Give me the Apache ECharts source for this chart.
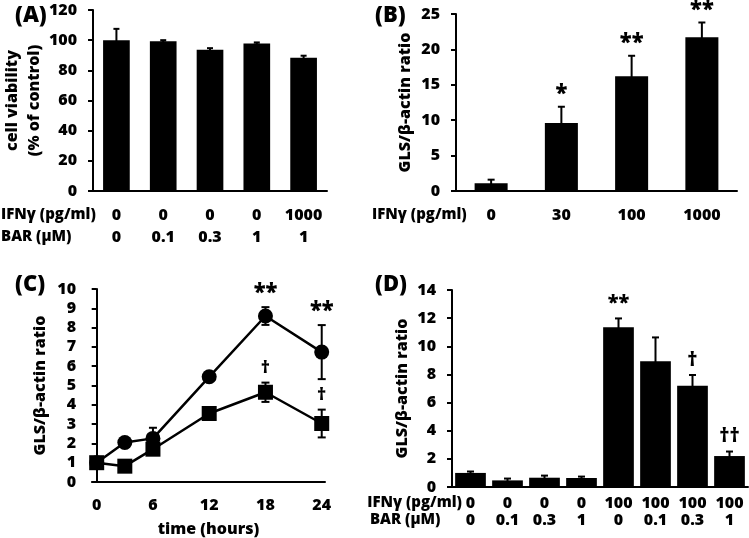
<!DOCTYPE html>
<html>
<head>
<meta charset="utf-8">
<script src="https://cdn.jsdelivr.net/npm/echarts@6/dist/echarts.min.js"></script>
<style>
  html, body { margin: 0; padding: 0; background: #fff; }
  #main { width: 749px; height: 538px; }
</style>
</head>
<body>
<div id="main"></div>
<script>
// (A) cell viability
var ifnA = ['0', '0', '0', '0', '1000'];
var barA = ['0', '0.1', '0.3', '1', '1'];
var viabA = [100, 99.2, 93.7, 97.8, 88.4];
var viabErrA = [7.5, 0.8, 1.0, 0.7, 1.3];

// (B) GLS vs IFNγ dose
var ifnB = ['0', '30', '100', '1000'];
var glsB = [1.1, 9.6, 16.2, 21.7];
var errB = [0.5, 2.3, 2.9, 2.1];
var marksB = ['', '*', '**', '**'];

// (C) time course
var timeC = [0, 3, 6, 12, 18, 24];
var circC = [1.0, 2.05, 2.26, 5.45, 8.6, 6.73];
var circErrC = [0.1, 0.1, 0.55, 0.1, 0.46, 1.4];
var sqC = [1.0, 0.82, 1.7, 3.55, 4.65, 3.03];
var sqErrC = [0.1, 0.1, 0.15, 0.15, 0.5, 0.72];
var circMarksC = ['', '', '', '', '**', '**'];
var sqMarksC = ['', '', '', '', '\u2020', '\u2020'];
var timeTicksC = [0, 6, 12, 18, 24];

// (D) IFNγ + BAR
var ifnD = ['0', '0', '0', '0', '100', '100', '100', '100'];
var barD = ['0', '0.1', '0.3', '1', '0', '0.1', '0.3', '1'];
var glsD = [1.0, 0.47, 0.66, 0.64, 11.35, 8.93, 7.2, 2.2];
var errD = [0.1, 0.13, 0.15, 0.1, 0.63, 1.7, 0.76, 0.32];
var marksD = ['', '', '', '', '**', '', '\u2020', '\u2020\u2020'];

var FONT = '"Open Sans", "Liberation Sans", sans-serif';
var FS = 16;
var FW = 800;

function errData(xs, vals, errs) {
  return vals.map(function (v, i) { return [xs ? xs[i] : i, v - errs[i], v + errs[i]]; });
}
function topData(xs, vals, errs) {
  return vals.map(function (v, i) { return [xs ? xs[i] : i, v + errs[i]]; });
}

// 误差线：竖线 + 上下横帽
function errItem(capW) {
  return function (params, api) {
    var x = api.value(0);
    var lo = api.coord([x, api.value(1)]);
    var hi = api.coord([x, api.value(2)]);
    var st = { stroke: '#000', lineWidth: 2 };
    return {
      type: 'group',
      children: [
        { type: 'line', shape: { x1: lo[0], y1: lo[1], x2: hi[0], y2: hi[1] }, style: st },
        { type: 'line', shape: { x1: hi[0] - capW / 2, y1: hi[1], x2: hi[0] + capW / 2, y2: hi[1] }, style: st },
        { type: 'line', shape: { x1: lo[0] - capW / 2, y1: lo[1], x2: lo[0] + capW / 2, y2: lo[1] }, style: st }
      ]
    };
  };
}

// 显著性标记 (* / †)
function markItem(marks, gap, size) {
  return function (params, api) {
    var t = marks[params.dataIndex];
    if (!t) return;
    var p = api.coord([api.value(0), api.value(1)]);
    return {
      type: 'text',
      style: {
        text: t, x: p[0], y: p[1] - gap, align: 'center', verticalAlign: 'middle',
        font: FW + ' ' + size + 'px ' + FONT, fill: '#000'
      }
    };
  };
}

var labelStyle = { color: '#000', fontSize: FS, fontWeight: FW, fontFamily: FONT };

function yAxis(grid, max, interval, name, gap) {
  return {
    type: 'value', gridIndex: grid, min: 0, max: max, interval: interval,
    name: name, nameLocation: 'middle', nameGap: gap,
    nameTextStyle: { color: '#000', fontSize: FS, fontWeight: FW, fontFamily: FONT, lineHeight: 22 },
    axisLine: { show: true, lineStyle: { color: '#000', width: 2 } },
    axisTick: { show: true, length: 5, lineStyle: { color: '#000', width: 2 } },
    axisLabel: Object.assign({ margin: 16 }, labelStyle),
    splitLine: { show: false }
  };
}

function baseX(grid, n) {
  var d = [];
  for (var i = 0; i < n; i++) d.push(i);
  return {
    type: 'category', gridIndex: grid, data: d,
    axisLine: { show: true, lineStyle: { color: '#000', width: 2 } },
    axisTick: { show: false }, axisLabel: { show: false }
  };
}

function rowX(grid, labels, offset, name, nameGap) {
  return {
    type: 'category', gridIndex: grid, data: labels, position: 'bottom', offset: offset,
    name: name, nameLocation: 'start', nameGap: nameGap,
    nameTextStyle: { color: '#000', fontSize: 15, fontWeight: FW, fontFamily: FONT, align: 'left', verticalAlign: 'middle' },
    axisLine: { show: false }, axisTick: { show: false },
    axisLabel: Object.assign({ margin: 0, verticalAlign: 'middle', interval: 0 }, labelStyle)
  };
}

var titleStyle = { fontSize: 22, fontWeight: FW, fontFamily: FONT, color: '#000' };

var myChart = echarts.init(document.getElementById('main'));
var option = {
  backgroundColor: '#fff',
  animation: false,
  title: [
    { text: '(A)', left: 10, top: 0, textStyle: titleStyle },
    { text: '(B)', left: 370, top: 0, textStyle: titleStyle },
    { text: '(C)', left: 10, top: 269, textStyle: titleStyle },
    { text: '(D)', left: 370, top: 269, textStyle: titleStyle }
  ],
  grid: [
    { left: 92, top: 10, width: 235, height: 181 },
    { left: 456, top: 14, width: 281, height: 177 },
    { left: 92, top: 289, width: 233, height: 196 },
    { left: 452, top: 290, width: 296, height: 197 }
  ],
  xAxis: [
    baseX(0, 5),
    rowX(0, ifnA, 24, 'IFN\u03b3 (pg/ml)', 92),
    rowX(0, barA, 46, 'BAR (\u03bcM)', 92),
    baseX(1, 4),
    rowX(1, ifnB, 24, 'IFN\u03b3 (pg/ml)', 84),
    {
      type: 'value', gridIndex: 2, min: -0.5, max: 24.35,
      name: 'time (hours)', nameLocation: 'middle', nameGap: 39,
      nameTextStyle: { color: '#000', fontSize: FS, fontWeight: FW, fontFamily: FONT },
      axisLine: { show: true, lineStyle: { color: '#000', width: 2 } },
      axisTick: { show: false },
      axisLabel: Object.assign({ margin: 15, customValues: timeTicksC }, labelStyle),
      splitLine: { show: false }
    },
    baseX(3, 8),
    rowX(3, ifnD, 16, 'IFN\u03b3 (pg/ml)', 82),
    rowX(3, barD, 33, 'BAR (\u03bcM)', 82)
  ],
  yAxis: [
    yAxis(0, 120, 20, 'cell viability\n(% of control)', 33),
    yAxis(1, 25, 5, 'GLS/\u03b2-actin ratio', 40),
    yAxis(2, 10, 1, 'GLS/\u03b2-actin ratio', 41),
    yAxis(3, 14, 2, 'GLS/\u03b2-actin ratio', 27)
  ],
  series: [
    // A
    { type: 'bar', xAxisIndex: 0, yAxisIndex: 0, data: viabA, barCategoryGap: '43%', itemStyle: { color: '#000' } },
    { type: 'custom', xAxisIndex: 0, yAxisIndex: 0, data: errData(null, viabA, viabErrA), renderItem: errItem(6), encode: { x: 0, y: [1, 2] }, z: 3 },
    // B
    { type: 'bar', xAxisIndex: 3, yAxisIndex: 1, data: glsB, barCategoryGap: '53%', itemStyle: { color: '#000' } },
    { type: 'custom', xAxisIndex: 3, yAxisIndex: 1, data: errData(null, glsB, errB), renderItem: errItem(7), encode: { x: 0, y: [1, 2] }, z: 3 },
    { type: 'custom', xAxisIndex: 3, yAxisIndex: 1, data: topData(null, glsB, errB), renderItem: markItem(marksB, 12, 22), encode: { x: 0, y: 1 }, z: 4 },
    // C
    {
      type: 'line', xAxisIndex: 5, yAxisIndex: 2,
      data: timeC.map(function (t, i) { return [t, circC[i]]; }),
      symbol: 'circle', symbolSize: 15, showSymbol: true,
      lineStyle: { color: '#000', width: 2.5 }, itemStyle: { color: '#000' }, z: 4
    },
    {
      type: 'line', xAxisIndex: 5, yAxisIndex: 2,
      data: timeC.map(function (t, i) { return [t, sqC[i]]; }),
      symbol: 'rect', symbolSize: 15, showSymbol: true,
      lineStyle: { color: '#000', width: 2.5 }, itemStyle: { color: '#000' }, z: 4
    },
    { type: 'custom', xAxisIndex: 5, yAxisIndex: 2, data: errData(timeC, circC, circErrC), renderItem: errItem(8), encode: { x: 0, y: [1, 2] }, z: 3 },
    { type: 'custom', xAxisIndex: 5, yAxisIndex: 2, data: errData(timeC, sqC, sqErrC), renderItem: errItem(8), encode: { x: 0, y: [1, 2] }, z: 3 },
    { type: 'custom', xAxisIndex: 5, yAxisIndex: 2, data: topData(timeC, circC, circErrC), renderItem: markItem(circMarksC, 13, 22), encode: { x: 0, y: 1 }, z: 5 },
    { type: 'custom', xAxisIndex: 5, yAxisIndex: 2, data: topData(timeC, sqC, sqErrC), renderItem: markItem(sqMarksC, 15, 18), encode: { x: 0, y: 1 }, z: 5 },
    // D
    { type: 'bar', xAxisIndex: 6, yAxisIndex: 3, data: glsD, barCategoryGap: '17%', itemStyle: { color: '#000' } },
    { type: 'custom', xAxisIndex: 6, yAxisIndex: 3, data: errData(null, glsD, errD), renderItem: errItem(7), encode: { x: 0, y: [1, 2] }, z: 3 },
    { type: 'custom', xAxisIndex: 6, yAxisIndex: 3, data: topData(null, glsD, errD), renderItem: markItem(marksD, 15, 20), encode: { x: 0, y: 1 }, z: 4 }
  ]
};
myChart.setOption(option);
</script>
</body>
</html>
